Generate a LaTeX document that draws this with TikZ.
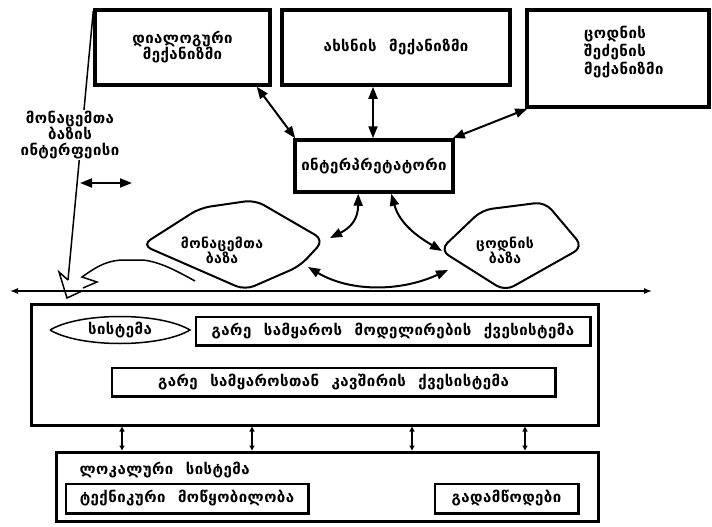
\documentclass[tikz,border=0pt]{standalone}
\usepackage{fontspec}
\usetikzlibrary{arrows.meta,calc}
\newfontfamily\geo[LetterSpace=3,WordSpace=2.2]{DejaVu Sans Bold}
\begin{document}
\begin{tikzpicture}[x=1pt,y=-1pt,
  big/.style={draw,line width=3.5pt,align=center,inner sep=0pt},
  mid/.style={draw,line width=3pt,inner sep=0pt},
  inner/.style={draw,line width=1.2pt,inner sep=0pt},
  txt/.style={font=\geo\fontsize{15}{18}\selectfont,align=center},
  stxt/.style={font=\geo\fontsize{14}{15}\selectfont,align=center},
  dbl/.style={line width=2pt,{Triangle[length=12pt,width=9pt]}-{Triangle[length=12pt,width=9pt]}},
  small/.style={line width=1.5pt,{Triangle[length=5pt,width=5pt]}-{Triangle[length=5pt,width=5pt]}},
  dia/.style={draw,line width=2pt,rounded corners=10pt}
]
\useasboundingbox (0,0) rectangle (712,527);

% top boxes
\node[big,txt,minimum width=175pt,minimum height=75pt] (dial) at (182.5,47.5) {დიალოგური\\[-2pt]მექანიზმი};
\node[big,txt,minimum width=228pt,minimum height=75pt] (expl) at (396,47.5) {ახსნის მექანიზმი};
\node[big,minimum width=182pt,minimum height=97pt] (acq) at (618,58.5) {};
\node[txt,align=left,anchor=west,inner sep=0pt] (acqt) at (584,52) {ცოდნის\\შეძენის\\მექანიზმი};
\node[big,txt,minimum width=158pt,minimum height=52pt] (interp) at (374,166) {ინტერპრეტატორი};

% left interface line and label
\coordinate (lzA) at (68,280);
\draw[line width=1.5pt] ($(dial.north west)+(0,3)$) -- (lzA);
\node[txt,fill=white,inner sep=1pt] (iface) at (70,135) {მონაცემთა\\[-2pt]ბაზის\\[-2pt]ინტერფეისი};
\coordinate (ifl) at (80,183);
\coordinate (ifr) at (132,183);
\draw[dbl] (ifl) -- (ifr);

% horizontal line
\coordinate (hl) at (10,291);
\coordinate (hr) at (652,291);
\draw[line width=1.2pt,{Latex[length=8pt,width=6pt]}-{Latex[length=8pt,width=6pt]}] (hl) -- (hr);

% diamonds
\draw[dia] (142,245) -- (200,208) -- (255,200) -- (324,240) -- (300,266) -- (245,290) -- cycle;
\node[stxt] (ldb) at (222,250) {მონაცემთა\\ბაზა};
\draw[dia] (440,250) -- (482,210) -- (545,202) -- (583,247) -- (505,291) -- cycle;
\node[stxt] (kdb) at (505,250) {ცოდნის\\ბაზა};
\coordinate (ldR) at (330,238);
\coordinate (ldB) at (308,267);
\coordinate (kdL) at (442,251);
\coordinate (kdB) at (448,270);

% lightning and wave
\draw[line width=1.5pt] (lzA) -- (59,272) -- (67,298) -- (82,291);
\draw[line width=1.5pt] (83,288) -- (97,282) -- (82,277) .. controls (100,264) and (110,260) .. (125,260) -- (143,260) .. controls (160,262) and (175,270) .. (195,281);

% arrows top
\draw[dbl] ($(dial.south east)+(-15,0)$) -- ($(interp.north west)+(2,0)$);
\draw[dbl] (expl.south -| 373,0) -- (interp.north -| 373,0);
\draw[dbl] ($(acq.south west)+(2,0)$) -- ($(interp.north east)+(-2,0)$);
\draw[dbl] ($(interp.south west)+(65,0)$) .. controls (358,220) and (350,228) .. (ldR);
\draw[dbl] ($(interp.south west)+(98,0)$) .. controls (400,225) and (420,238) .. (kdL);
\draw[dbl] (ldB) .. controls (350,292) and (400,292) .. (kdB);

% lower system
\node[mid,minimum width=567pt,minimum height=121pt] (sysbox) at (314.5,364.5) {};
\draw[line width=1.5pt] (50,330) .. controls (80,312) and (160,312) .. (190,330) .. controls (160,348) and (80,348) .. (50,330);
\node[txt] (sys) at (120,330) {სისტემა};
\node[inner,txt,minimum width=394pt,minimum height=28pt] (modA) at (393,331) {გარე სამყაროს მოდელირების ქვესისტემა};
\draw[line width=3pt] (modA.north east) -- (modA.south east) -- (modA.south west);
\node[inner,txt,minimum width=443pt,minimum height=28pt] (modB) at (333.5,382) {გარე სამყაროსთან კავშირის ქვესისტემა};
\draw[line width=3pt] (modB.north east) -- (modB.south east) -- (modB.south west);

\node[mid,minimum width=542pt,minimum height=69pt] (loc) at (327,486.5) {};
\node[txt,anchor=west] (loct) at (76,470) {ლოკალური სისტემა};
\node[inner,txt,minimum width=242pt,minimum height=29pt] (tech) at (187,498.5) {ტექნიკური მოწყობილობა};
\draw[line width=3pt] (tech.north east) -- (tech.south east) -- (tech.south west);
\node[inner,txt,minimum width=143pt,minimum height=29pt] (sens) at (506.5,498.5) {გადამწოდები};
\draw[line width=3pt] (sens.north east) -- (sens.south east) -- (sens.south west);

\foreach \x in {122,252,412,525}{
  \draw[small] (sysbox.south -| \x,0) -- (loc.north -| \x,0);
}
\end{tikzpicture}
\end{document}
